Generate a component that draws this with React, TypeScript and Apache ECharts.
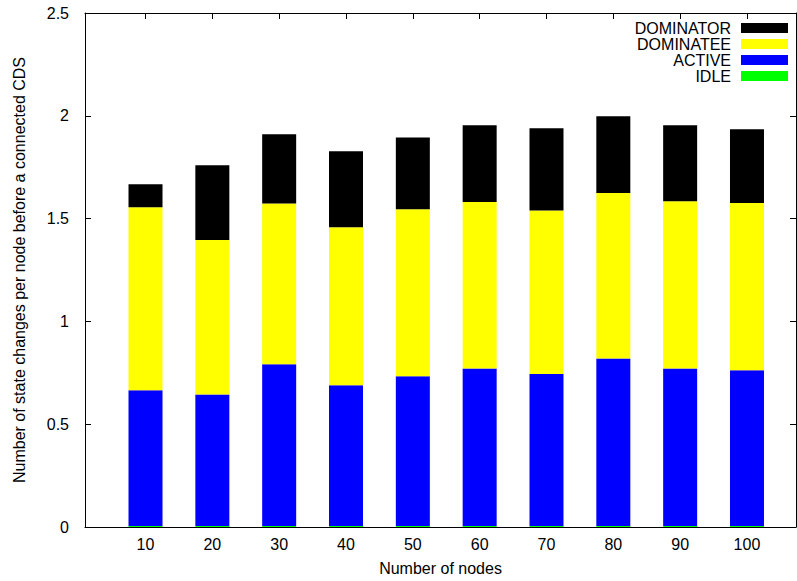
import React, { useEffect, useRef } from "react";
import * as echarts from "echarts";

const categories = ["10", "20", "30", "40", "50", "60", "70", "80", "90", "100"];
const idle = [0.005, 0.005, 0.005, 0.005, 0.005, 0.005, 0.005, 0.005, 0.005, 0.005];
const active = [0.66, 0.64, 0.786, 0.684, 0.728, 0.766, 0.739, 0.815, 0.766, 0.757];
const dominatee = [0.89, 0.751, 0.783, 0.769, 0.812, 0.81, 0.796, 0.805, 0.813, 0.814];
const dominator = [0.112, 0.363, 0.336, 0.369, 0.35, 0.373, 0.399, 0.373, 0.37, 0.358];
const yTicks = [0, 0.5, 1, 1.5, 2, 2.5];

const FONT = "Liberation Sans, Arial, sans-serif";

export default function App() {
  const ref = useRef<HTMLDivElement>(null);
  useEffect(() => {
    if (!ref.current) return;
    const chart = echarts.init(ref.current, undefined, { renderer: "svg" });
    const positions = categories.map((_, i) => i);
    const xMin = -0.905;
    const xMax = 9.734;
    const line = { show: true, onZero: false, lineStyle: { color: "#000", width: 1 } };
    const mk = (name: string, vals: number[], color: string) => ({
      name,
      type: "bar",
      stack: "total",
      barWidth: 34,
      xAxisIndex: 2,
      yAxisIndex: 2,
      itemStyle: { color },
      data: vals,
    });
    chart.setOption({
      animation: false,
      textStyle: { fontFamily: FONT },
      grid: [
        { left: 85, right: 1, top: 13, bottom: 54, containLabel: false },
        { left: 112.1, right: 16.6, top: 13, bottom: 54, containLabel: false },
      ],
      legend: {
        orient: "vertical",
        right: 9,
        top: 20,
        padding: 0,
        align: "right",
        itemWidth: 47,
        itemHeight: 10,
        itemGap: 0,
        icon: "rect",
        data: ["DOMINATOR", "DOMINATEE", "ACTIVE", "IDLE"],
        textStyle: { fontSize: 16, color: "#000", fontFamily: FONT, lineHeight: 16, padding: [0, 5, 0, 0] },
      },
      xAxis: [
        {
          type: "value",
          gridIndex: 0,
          min: xMin,
          max: xMax,
          position: "bottom",
          name: "Number of nodes",
          nameLocation: "middle",
          nameGap: 33,
          nameTextStyle: { fontSize: 16, color: "#000", fontFamily: FONT },
          axisLine: line,
          axisTick: { show: true, inside: true, length: 6, customValues: positions, lineStyle: { color: "#000" } },
          axisLabel: {
            show: true,
            customValues: positions,
            margin: 9,
            fontSize: 16,
            color: "#000",
            fontFamily: FONT,
            formatter: (v: number) => categories[Math.round(v)] ?? "",
          },
          splitLine: { show: false },
        },
        {
          type: "value",
          gridIndex: 0,
          min: xMin,
          max: xMax,
          position: "top",
          axisLine: line,
          axisTick: { show: true, inside: true, length: 6, customValues: positions, lineStyle: { color: "#000" } },
          axisLabel: { show: false },
          splitLine: { show: false },
        },
        {
          type: "category",
          gridIndex: 1,
          data: categories,
          show: false,
        },
      ],
      yAxis: [
        {
          type: "value",
          gridIndex: 0,
          min: 0,
          max: 2.5,
          interval: 0.5,
          position: "left",
          name: "Number of state changes per node before a connected CDS",
          nameLocation: "middle",
          nameGap: 58,
          nameTextStyle: { fontSize: 16, color: "#000", fontFamily: FONT },
          axisLine: line,
          axisTick: { show: true, inside: true, length: 6, lineStyle: { color: "#000" } },
          axisLabel: { margin: 16, fontSize: 16, color: "#000", fontFamily: FONT, customValues: yTicks },
          splitLine: { show: false },
        },
        {
          type: "value",
          gridIndex: 0,
          min: 0,
          max: 2.5,
          interval: 0.5,
          position: "right",
          axisLine: line,
          axisTick: { show: true, inside: true, length: 6, lineStyle: { color: "#000" } },
          axisLabel: { show: false },
          splitLine: { show: false },
        },
        {
          type: "value",
          gridIndex: 1,
          min: 0,
          max: 2.5,
          show: false,
        },
      ],
      series: [
        mk("IDLE", idle, "#00ff00"),
        mk("ACTIVE", active, "#0000ff"),
        mk("DOMINATEE", dominatee, "#ffff00"),
        mk("DOMINATOR", dominator, "#000000"),
      ],
    });
    return () => chart.dispose();
  }, []);
  return <div ref={ref} style={{ width: 797, height: 581, position: "absolute", left: 0, top: 0 }} />;
}
